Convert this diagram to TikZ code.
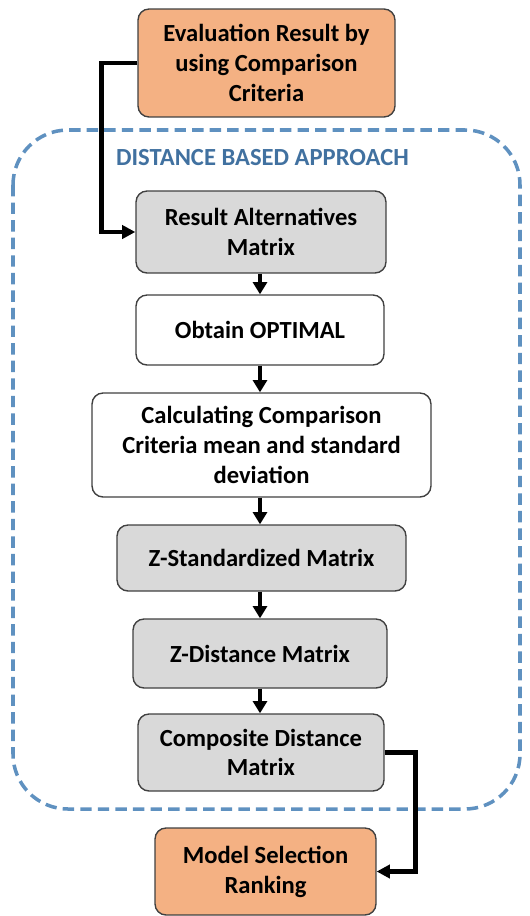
\documentclass[tikz,border=0pt]{standalone}
\usepackage{fontspec}
\setmainfont{Carlito}
\usetikzlibrary{arrows.meta}

\definecolor{evalorange}{RGB}{244,177,131}
\definecolor{matgray}{RGB}{217,217,217}
\definecolor{dashblue}{RGB}{95,145,192}
\definecolor{titleblue}{RGB}{65,113,160}

\begin{document}
\begin{tikzpicture}[x = 0.02cm, y = -0.02cm,
		box/.style = {draw = black!75, line width = 0.8pt, rounded corners = 0.22cm, align = center,
			font = \fontsize{14}{17}\selectfont\bfseries, inner sep = 0pt},
		flow/.style = {line width = 2pt, -{Triangle[length = 7pt, width = 8pt]}},
		elbow/.style = {line width = 2.8pt, -{Triangle[length = 7.5pt, width = 7.5pt]}}]
	
		\useasboundingbox (0, 0) rectangle (529, 916);
		
		% approach frame
		\draw[dashblue, line width = 2pt, dash pattern = on 6.5pt off 3.5pt, rounded corners = 1.1cm]
			(13, 130) rectangle (520, 809);
		\node[text = titleblue, font = \fontsize{14}{17}\selectfont\bfseries] (title) at (262.5, 158) {DISTANCE BASED APPROACH};
		
		\node[box, fill = evalorange, minimum width = 5.14cm, minimum height = 2.16cm] (eval) at (266.5, 63)
			{Evaluation Result by\\ using Comparison\\ Criteria};
		\node[box, fill = matgray, minimum width = 5cm, minimum height = 1.64cm] (ram) at (261, 232)
			{Result Alternatives\\ Matrix};
		\node[box, fill = white, minimum width = 4.96cm, minimum height = 1.4cm] (opt) at (260, 330)
			{Obtain OPTIMAL};
		\node[box, fill = white, minimum width = 6.78cm, minimum height = 2.08cm] (calc) at (261.5, 445)
			{Calculating Comparison\\ Criteria mean and standard\\ deviation};
		\node[box, fill = matgray, minimum width = 5.78cm, minimum height = 1.32cm] (zstd) at (261.5, 558)
			{Z-Standardized Matrix};
		\node[box, fill = matgray, minimum width = 5.08cm, minimum height = 1.38cm] (zdist) at (260, 653.5)
			{Z-Distance Matrix};
		\node[box, fill = matgray, minimum width = 4.92cm, minimum height = 1.54cm] (comp) at (261, 752.5)
			{Composite Distance\\ Matrix};
		\node[box, fill = evalorange, minimum width = 4.42cm, minimum height = 1.74cm] (model) at (265.5, 871.5)
			{Model Selection\\ Ranking};
		
		\draw[flow] (ram.south -| 260, 0) -- (opt.north -| 260, 0);
		\draw[flow] (opt.south -| 260, 0) -- (calc.north -| 260, 0);
		\draw[flow] (calc.south -| 260, 0) -- (zstd.north -| 260, 0);
		\draw[flow] (zstd.south -| 260, 0) -- (zdist.north -| 260, 0);
		\draw[flow] (zdist.south -| 260, 0) -- (comp.north -| 260, 0);
		
		\draw[elbow] (eval.west) -- ++(-36, 0) |- (ram.west);
		\draw[elbow] (comp.east) -- ++(31, 0) |- (model.east);
		
	\end{tikzpicture}
\end{document}
